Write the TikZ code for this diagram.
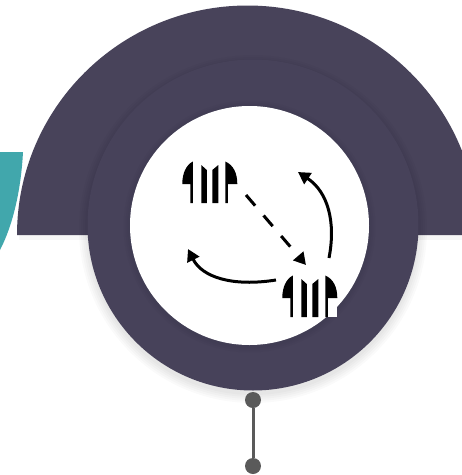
\documentclass[tikz,border=0pt]{standalone}
\usetikzlibrary{arrows.meta}
\definecolor{plum}{HTML}{48435A}
\definecolor{plumdeep}{HTML}{47425A}
\definecolor{tealband}{HTML}{41A7AC}
\definecolor{stemgray}{HTML}{5A5A5A}
\tikzset{
  x=1pt,y=-1pt,
  cycleflow/.style={draw=black,line width=3pt,-{Triangle[length=12pt,width=13pt]}},
  dot/.style={circle,fill=stemgray,minimum size=16pt,inner sep=0pt},
  stemline/.style={draw=stemgray,line width=3pt},
  shirtpart/.style={fill=black}
}
\newcommand{\shirticon}[2]{%
  \begin{scope}[shift={(#1,#2)}]
    \fill[shirtpart] (0,23) .. controls (0,12) and (4,4) .. (10.5,0.5) -- (10.5,42) -- (8,42) -- (8,23) -- cycle;
    \fill[shirtpart] (19,4) -- (24.5,9) -- (24.5,42) -- (19,42) -- cycle;
    \fill[shirtpart] (36,4) -- (30,9) -- (30,42) -- (36,42) -- cycle;
    \fill[shirtpart] (55,23) .. controls (55,12) and (51,4) .. (43,0.5) -- (43,42) -- (45.5,42) -- (45.5,23) -- cycle;
  \end{scope}}
\begin{document}
\begin{tikzpicture}
\useasboundingbox (0,0) rectangle (462,475);
\clip (0,0) rectangle (462,475);
\fill[white] (0,0) rectangle (462,475);
% teal band
\fill[tealband] (0,152) -- (23,152) .. controls (21,190) and (13,225) .. (0,250) -- cycle;
% outer half disc
\fill[black,opacity=0.03] (19,235) -- (462,235) -- (462,240) -- (19,240) -- cycle;
\fill[plum] (17,235) arc[start angle=180,end angle=360,x radius=230.5,y radius=229.5] -- cycle;
% soft shadow under the ring
\foreach \r in {174,172,170,168,166}{
  \fill[black,opacity=0.02] (253,229) circle[radius=\r];
}
% ring and inner disc
\fill[plumdeep] (253,225) circle[radius=165.5];
\foreach \r in {126,124,122}{
  \fill[black,opacity=0.015] (249.5,226.5) circle[radius=\r];
}
\fill[white] (249.5,225.5) circle[radius=119.5];
\fill[white] (322,295) rectangle (336.7,316.7);
% icons
\shirticon{182.3}{161}
\shirticon{282.3}{275}
% connectors
\coordinate (dashstart) at (246,195);
\coordinate (dashend) at (306,265);
\coordinate (rightstart) at (329,258);
\coordinate (righttip) at (298,172);
\coordinate (leftstart) at (276,280);
\coordinate (lefttip) at (188,249);
\draw[cycleflow,dash pattern=on 14pt off 13pt] (dashstart) -- (dashend);
\draw[cycleflow] (rightstart) .. controls (336,222) and (328,192) .. (righttip);
\draw[cycleflow] (leftstart) .. controls (232,287) and (202,277) .. (lefttip);
% stem
\node[dot] (topdot) at (253,400) {};
\node[dot] (bottomdot) at (253,466) {};
\draw[stemline] (topdot) -- (bottomdot);
\end{tikzpicture}
\end{document}
